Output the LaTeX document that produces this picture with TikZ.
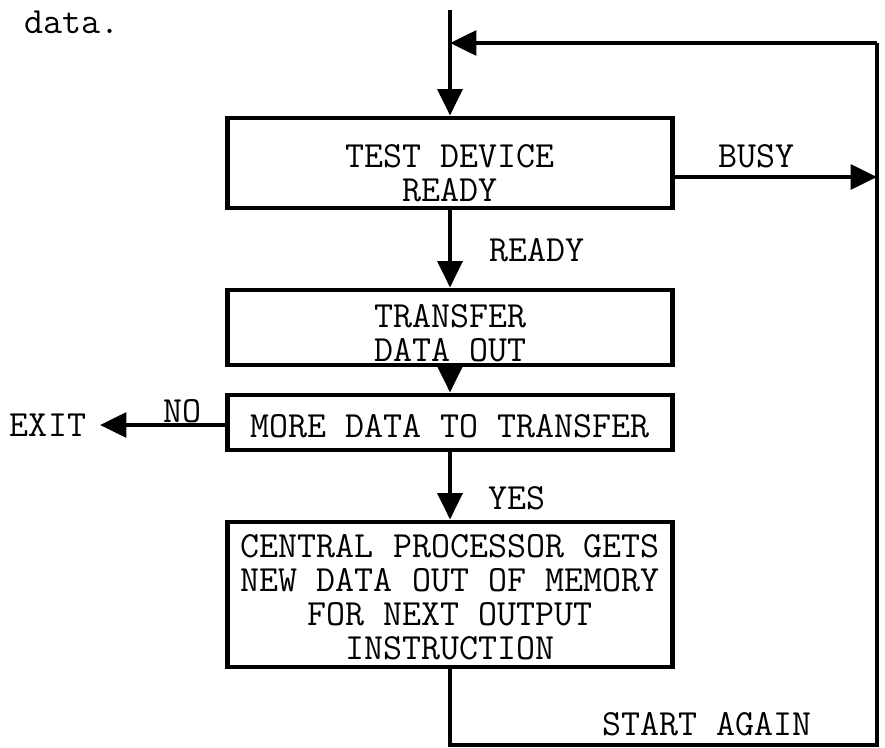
\documentclass[tikz,border=0pt]{standalone}
\usepackage{fontspec}
\usepackage{tikz}
\usetikzlibrary{arrows.meta,positioning}

\begin{document}
\begin{tikzpicture}[
    x=0.02cm, y=-0.02cm,
    box/.style={draw, line width=2.8pt, align=center, inner sep=0pt,
                minimum width=8.9cm, font=\ttfamily\fontsize{21}{19.3}\selectfont},
    lbl/.style={font=\ttfamily\fontsize{21}{19.3}\selectfont, inner sep=0pt},
    line/.style={line width=2.4pt},
    arrow/.style={-{Triangle[length=15pt, width=14pt]}, line width=2.4pt}
  ]
    \useasboundingbox (0,0) rectangle (885,747);
    \node[lbl] (page) at (72,22) {data.};
    \node[box, minimum height=1.8cm] (test) at (450,163)
      {\rule{0pt}{25pt}TEST DEVICE\\READY};
    \node[box, minimum height=1.5cm] (xfer) at (450,327.5)
      {\rule{0pt}{19.5pt}TRANSFER\\DATA OUT};
    \node[box, minimum height=1.1cm] (more) at (450,422.5)
      {\rule{0pt}{16.8pt}MORE DATA TO TRANSFER};
    \node[box, minimum height=2.9cm] (cpu) at (450,594.5)
      {\rule{0pt}{16.2pt}CENTRAL PROCESSOR GETS\\NEW DATA OUT OF MEMORY\\FOR NEXT OUTPUT\\INSTRUCTION};
    \node[lbl] (busy) at (756,156) {BUSY};
    \node[lbl] (ready) at (537,250) {READY};
    \node[lbl] (no) at (182,411) {NO};
    \node[lbl] (exit) at (48,425) {EXIT};
    \node[lbl] (yes) at (517,498) {YES};
    \node[lbl] (again) at (707,724) {START AGAIN};
    \coordinate (top) at (450,10);
    \coordinate (join) at (450,43);
    \coordinate (rtop) at (877,43);
    \coordinate (rbusy) at (877,177);
    \coordinate (rbot) at (877,745);
    \coordinate (exitpt) at (100,425);
    \draw[arrow] (top) -- (test);
    \draw[arrow] (rtop) -- (join);
    \draw[arrow] (test.east |- rbusy) -- (rbusy);
    \draw[arrow] (test) -- (xfer);
    \draw[arrow] (xfer) -- (more);
    \draw[arrow] (more.west |- exitpt) -- (exitpt);
    \draw[arrow] (more) -- (cpu);
    \draw[line] (cpu.south) -- (cpu.south |- rbot) -- (rbot) -- (rtop);
\end{tikzpicture}
\end{document}
